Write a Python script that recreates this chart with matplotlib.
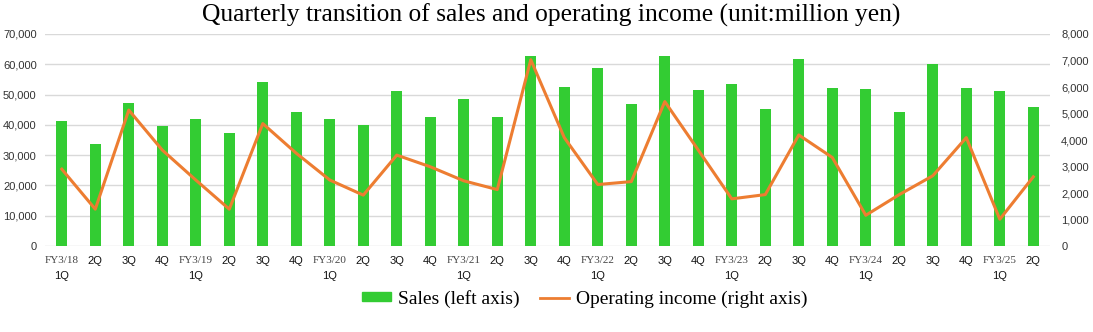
import numpy as np
import matplotlib
matplotlib.use("Agg")
import matplotlib.pyplot as plt
from matplotlib.ticker import FuncFormatter, MultipleLocator
from matplotlib.lines import Line2D
from matplotlib.patches import Patch
import matplotlib.transforms as mtransforms

# --------------------
# Data (million yen)
# --------------------
fiscal_years = ["FY3/18", "FY3/19", "FY3/20", "FY3/21", "FY3/22", "FY3/23", "FY3/24", "FY3/25"]
quarters = ["1Q", "2Q", "3Q", "4Q"]
n_periods = 30

sales = [41300, 33700, 47200, 39700, 41900, 37200, 54300, 44200,
         41900, 40100, 51200, 42500, 48700, 42700, 62900, 52400,
         58800, 47000, 62700, 51400, 53400, 45400, 61800, 52100,
         51800, 44400, 60000, 52100, 51300, 45800]

operating_income = [2900, 1390, 5130, 3620, 2490, 1390, 4620, 3500,
                    2490, 1920, 3430, 2990, 2460, 2130, 7030, 4090,
                    2320, 2430, 5450, 3620, 1780, 1940, 4190, 3340,
                    1160, 1940, 2650, 4090, 1010, 2610]

green = "#33CC33"
orange = "#ED7D31"
grid_color = "#D9D9D9"

# --------------------
# Figure
# --------------------
fig = plt.figure(figsize=(10.93, 3.32), dpi=100)
ax = fig.add_axes([0.0412, 0.259, 0.9195, 0.6386])
ax2 = ax.twinx()

x = np.arange(n_periods)
ax.bar(x, sales, width=0.32, color=green, zorder=2)
ax2.plot(x, operating_income, color=orange, linewidth=2.2, zorder=3)

ax.set_xlim(-0.5, n_periods - 0.5)
ax.set_ylim(0, 70000)
ax2.set_ylim(0, 8000)
ax.yaxis.set_major_locator(MultipleLocator(10000))
ax2.yaxis.set_major_locator(MultipleLocator(1000))

comma = FuncFormatter(lambda v, p: f"{int(v):,}")
ax.yaxis.set_major_formatter(comma)
ax2.yaxis.set_major_formatter(comma)

ax.grid(axis="y", color=grid_color, linewidth=1, zorder=0)
ax.set_axisbelow(True)

for a in (ax, ax2):
    for s in a.spines.values():
        s.set_visible(False)
    a.tick_params(length=0, labelsize=8, labelcolor="#333333")
    for lbl in a.get_yticklabels():
        lbl.set_fontfamily("Liberation Sans")

ax.tick_params(axis="y", pad=6)
ax2.tick_params(axis="y", pad=8)

# x labels: fiscal year on 1Q in serif, quarter names in sans
ax.set_xticks(x)
ax.set_xticklabels([])
trans = mtransforms.blended_transform_factory(ax.transData, ax.transAxes)
for i in x:
    q = quarters[i % 4]
    if i % 4 == 0:
        ax.text(i, -0.045, fiscal_years[i // 4], transform=trans, ha="center", va="top",
                fontsize=8, family="Liberation Serif", color="#444444")
        ax.text(i, -0.12, q, transform=trans, ha="center", va="top",
                fontsize=8, family="Liberation Sans", color="#111111")
    else:
        ax.text(i, -0.045, q, transform=trans, ha="center", va="top",
                fontsize=8, family="Liberation Sans", color="#111111")

fig.suptitle("Quarterly transition of sales and operating income (unit:million yen)",
             x=0.504, y=0.99, fontsize=18.4, family="Liberation Serif")

handles = [Patch(color=green, label="Sales (left axis)"),
           Line2D([0], [0], color=orange, linewidth=2, label="Operating income (right axis)")]
fig.legend(handles=handles, loc="center", bbox_to_anchor=(0.535, 0.1), ncol=2, frameon=False,
           prop={"family": "Liberation Serif", "size": 14}, handlelength=1.5,
           handleheight=0.35, columnspacing=1.0, handletextpad=0.4)

plt.savefig("out.png", dpi=100)
